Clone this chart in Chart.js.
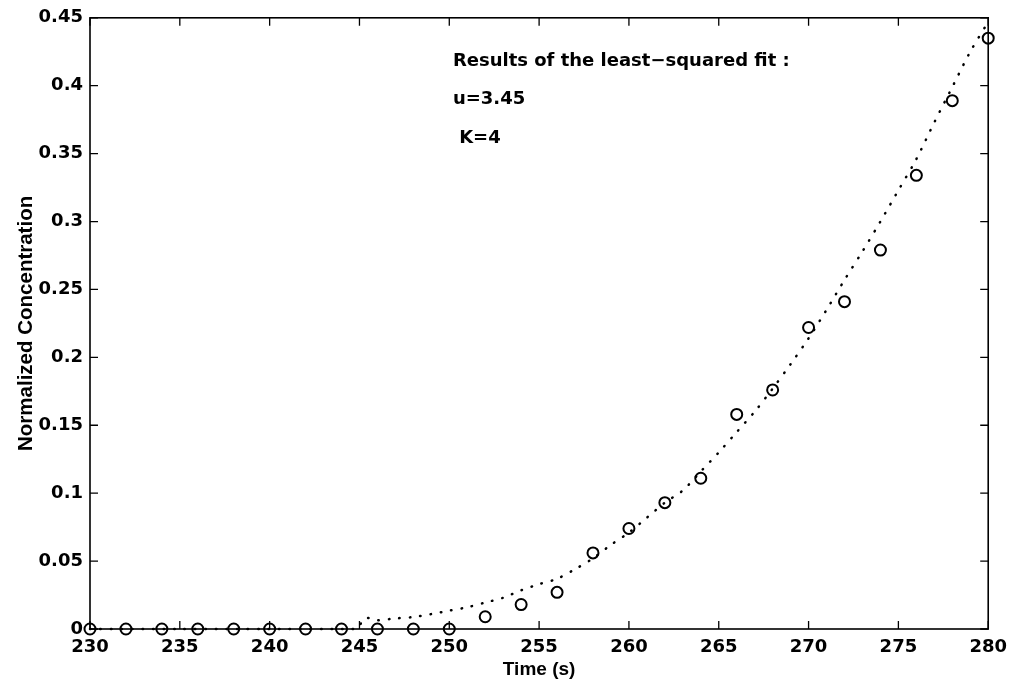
<!DOCTYPE html>
<html>
<head>
<meta charset="utf-8">
<script src="https://cdn.jsdelivr.net/npm/chart.js@4/dist/chart.umd.min.js"></script>
<style>
html,body{margin:0;padding:0;background:#fff;}
#wrap{width:1015px;height:688px;position:relative;}
</style>
</head>
<body>
<div id="wrap"><canvas id="c" width="1015" height="688"></canvas></div>
<script>
// Measured data (circles)
const timeS = [230,232,234,236,238,240,242,244,246,248,250,252,254,256,258,260,262,264,266,268,270,272,274,276,278,280];
const concentration = [0,0,0,0,0,0,0,0,0,0,0,0.009,0.018,0.027,0.056,0.074,0.093,0.111,0.158,0.176,0.222,0.241,0.279,0.334,0.389,0.435];

// Least-squares fit curve (dotted)
const fitTime = [230,235,240,244.8,245.3,246,247,248,249,250,251,252,253,254,255,256,257,258,259,260,261,262,263,264,265,266,267,268,269,270,271,272,273,274,275,276,277,278,279,280];
const fitConc = [0,0,0,0,0.008,0.0065,0.0078,0.0088,0.011,0.0135,0.016,0.0195,0.023,0.0285,0.033,0.037,0.044,0.052,0.062,0.071,0.082,0.093,0.102,0.116,0.130,0.145,0.160,0.177,0.195,0.214,0.235,0.257,0.278,0.300,0.323,0.346,0.373,0.399,0.425,0.447];

// Axis ticks
const xTicks = [230,235,240,245,250,255,260,265,270,275,280];
const yTickLabels = ['0','0.05','0.1','0.15','0.2','0.25','0.3','0.35','0.4','0.45'];

// Annotation text
const annotationLines = ['Results of the least\u2212squared fit :','u=3.45',' K=4'];
const annotationPos = [[250.2,0.418],[250.2,0.390],[250.2,0.361]];

const tickFont = {family:'"DejaVu Sans"', size:18, weight:'bold'};

const frameAndTicks = {
  id:'frameAndTicks',
  afterDatasetsDraw(chart){
    const {ctx, chartArea:a, scales:{x,y}} = chart;
    ctx.save();
    ctx.strokeStyle = '#000';
    ctx.lineWidth = 1.6;
    ctx.strokeRect(a.left, a.top, a.right-a.left, a.bottom-a.top);
    const L = 8;
    ctx.lineWidth = 1.3;
    ctx.beginPath();
    x.ticks.forEach(t=>{
      const px = x.getPixelForValue(t.value);
      ctx.moveTo(px, a.bottom); ctx.lineTo(px, a.bottom-L);
      ctx.moveTo(px, a.top); ctx.lineTo(px, a.top+L);
    });
    y.ticks.forEach(t=>{
      const py = y.getPixelForValue(t.value);
      ctx.moveTo(a.left, py); ctx.lineTo(a.left+L, py);
      ctx.moveTo(a.right, py); ctx.lineTo(a.right-L, py);
    });
    ctx.stroke();
    // annotation
    ctx.fillStyle = '#000';
    ctx.font = 'bold 18px "DejaVu Sans"';
    ctx.textBaseline = 'middle';
    ctx.textAlign = 'left';
    annotationLines.forEach((s,i)=>{
      ctx.fillText(s, x.getPixelForValue(annotationPos[i][0]), y.getPixelForValue(annotationPos[i][1]));
    });
    ctx.restore();
  }
};

new Chart(document.getElementById('c'), {
  type:'scatter',
  data:{
    datasets:[
      {
        label:'fit',
        type:'line',
        data: fitTime.map((t,i)=>({x:t,y:fitConc[i]})),
        borderColor:'#000',
        borderWidth:2.5,
        borderDash:[0.5,10],
        borderCapStyle:'round',
        pointRadius:0,
        fill:false,
        tension:0.3,
        clip:false
      },
      {
        label:'data',
        data: timeS.map((t,i)=>({x:t,y:concentration[i]})),
        showLine:false,
        pointStyle:'circle',
        pointRadius:5.5,
        pointBorderWidth:2,
        pointBorderColor:'#000',
        pointBackgroundColor:'rgba(0,0,0,0)',
        clip:false
      }
    ]
  },
  options:{
    responsive:false,
    animation:false,
    events:[],
    layout:{padding:{top:16,right:25,left:0,bottom:0}},
    plugins:{legend:{display:false},tooltip:{enabled:false},title:{display:false}},
    scales:{
      x:{
        type:'linear', min:230, max:280,
        afterFit(s){ s.height = 59; },
        afterBuildTicks(s){ s.ticks = xTicks.map(v=>({value:v})); },
        grid:{display:false, drawTicks:false},
        border:{display:false},
        ticks:{color:'#000', font:tickFont, padding:8, maxRotation:0, autoSkip:false, callback:(v)=>String(v)},
        title:{display:true, text:'Time (s)', color:'#000', font:{family:'"Liberation Sans"', size:19, weight:'bold'}, padding:{top:0,bottom:7}}
      },
      y:{
        type:'linear', min:0, max:0.45,
        afterFit(s){ s.width = 90; },
        afterBuildTicks(s){ s.ticks = yTickLabels.map(l=>({value:parseFloat(l)})); },
        grid:{display:false, drawTicks:false},
        border:{display:false},
        ticks:{color:'#000', font:tickFont, padding:7, autoSkip:false,
          callback:(v)=>{ const i = yTickLabels.findIndex(l=>Math.abs(parseFloat(l)-v)<1e-9); return i>=0 ? yTickLabels[i] : ''; }},
        title:{display:true, text:'Normalized Concentration', color:'#000', font:{family:'"Liberation Sans"', size:20.5, weight:'bold'}, padding:{top:14,bottom:0}}
      }
    }
  },
  plugins:[frameAndTicks]
});
</script>
</body>
</html>
